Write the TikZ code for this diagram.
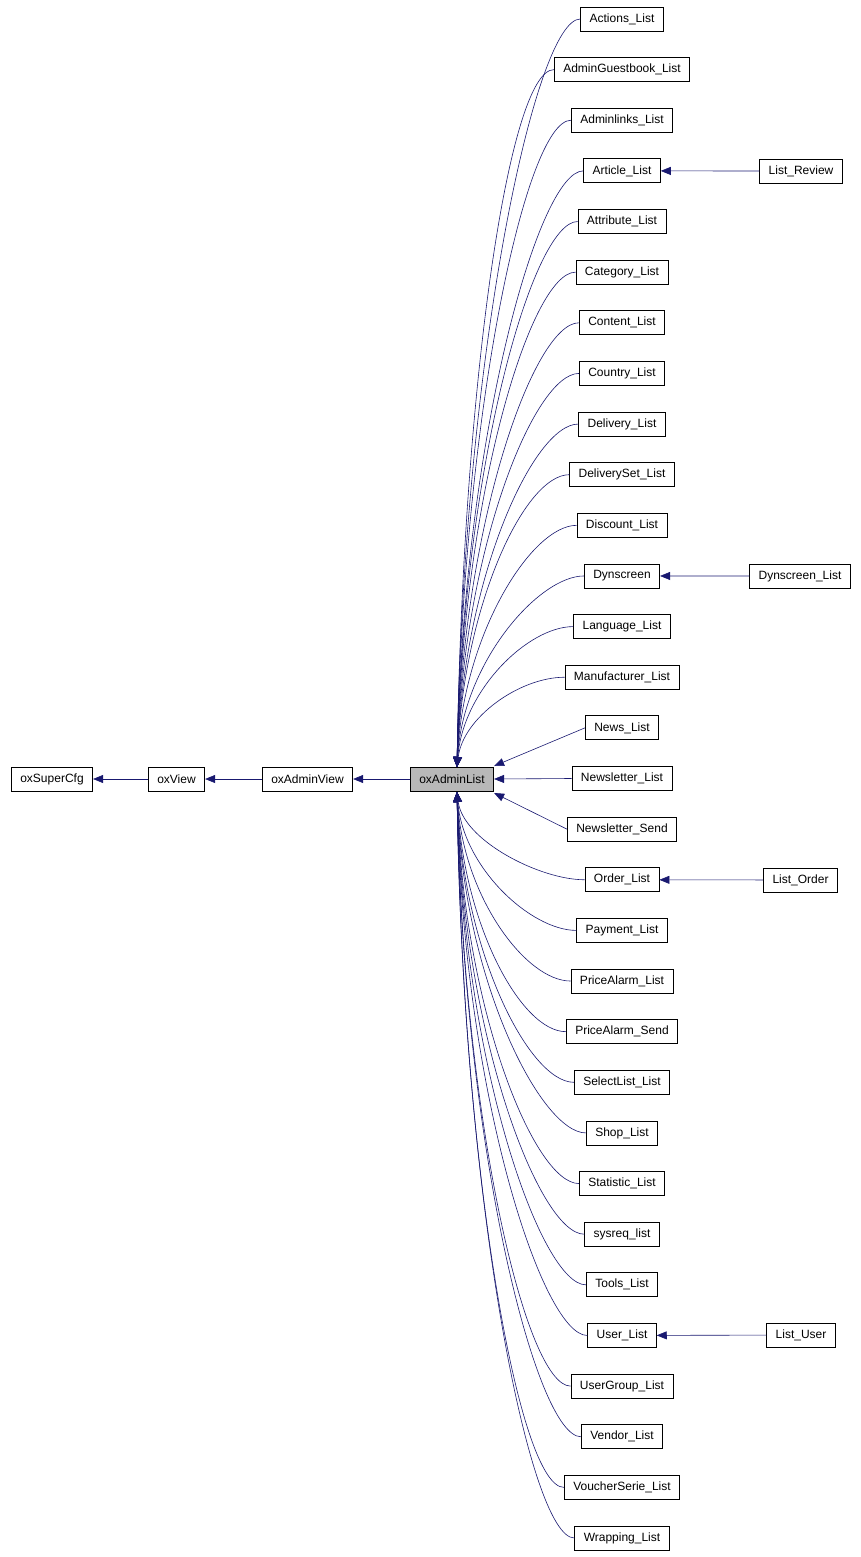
\documentclass[tikz,border=0pt]{standalone}
\usepackage{fontspec}
\setmainfont{Liberation Sans}
\usetikzlibrary{calc,arrows.meta}
\definecolor{navy}{RGB}{25,25,112}
\begin{document}
\begin{tikzpicture}[x=1pt,y=-1pt,
  box/.style={draw,thick,minimum height=24pt,inner xsep=9pt,inner ysep=0pt,font=\fontsize{12}{14}\selectfont,line width=0.8pt},
  edge/.style={draw=navy,line width=0.6pt,{Triangle[width=8pt,length=10pt,fill=navy]}-}]
\useasboundingbox (0,0) rectangle (861,1557);
\node[box] (sc) at (52,779) {oxSuperCfg};
\node[box] (vw) at (176.5,779) {oxView};
\node[box] (av) at (307.5,779) {oxAdminView};
\node[box,fill=black!28] (al) at (452,779) {oxAdminList};
\draw[edge] (sc) -- (vw);
\draw[edge] (vw) -- (av);
\draw[edge] (av) -- (al);
\coordinate (T) at (457,767);
\coordinate (B) at (457,792);
\foreach \n [count=\i from 0] in {Actions\_List,AdminGuestbook\_List,Adminlinks\_List,Article\_List,Attribute\_List,Category\_List,Content\_List,Country\_List,Delivery\_List,DeliverySet\_List,Discount\_List,Dynscreen,Language\_List,Manufacturer\_List,News\_List,Newsletter\_List,Newsletter\_Send,Order\_List,Payment\_List,PriceAlarm\_List,PriceAlarm\_Send,SelectList\_List,Shop\_List,Statistic\_List,sysreq\_list,Tools\_List,User\_List,UserGroup\_List,Vendor\_List,VoucherSerie\_List,Wrapping\_List}{
  \pgfmathsetmacro\yy{19+50.633*\i}
  \node[box] (c\i) at (622,\yy) {\n};
}
\foreach \i in {0,...,13}{
  \pgfmathsetmacro\d{767-(19+50.633*\i)}
  \draw[edge] (T) .. controls ($(T)+(6,-0.55*\d)$) and ($(c\i.west)+(-45,0)$) .. (c\i.west);
}
\foreach \i in {17,...,30}{
  \pgfmathsetmacro\d{(19+50.633*\i)-792}
  \draw[edge] (B) .. controls ($(B)+(6,0.55*\d)$) and ($(c\i.west)+(-45,0)$) .. (c\i.west);
}
\draw[edge] (al.east|-0,766) -- (c14.west);
\draw[edge] (al.east) -- (c15.west);
\draw[edge] (al.east|-0,793) -- (c16.west);
\node[box] (lr) at (801,171) {List\_Review};
\node[box] (dl) at (800,576) {Dynscreen\_List};
\node[box] (lo) at (800.5,880) {List\_Order};
\node[box] (lu) at (801,1335) {List\_User};
\draw[edge] (c3) -- (lr);
\draw[edge] (c11) -- (dl);
\draw[edge] (c17) -- (lo);
\draw[edge] (c26) -- (lu);
\end{tikzpicture}
\end{document}
